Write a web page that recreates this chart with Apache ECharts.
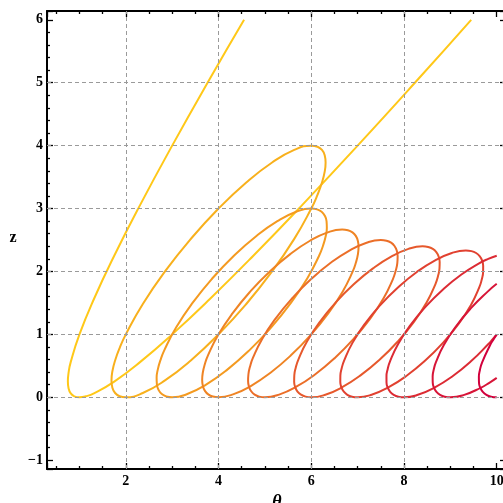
<!DOCTYPE html>
<html>
<head>
<meta charset="utf-8">
<script src="https://cdn.jsdelivr.net/npm/echarts@6/dist/echarts.min.js"></script>
<style>html,body{margin:0;padding:0;background:#fff;}#c{width:503px;height:503px;}</style>
</head>
<body>
<div id="c"></div>
<script>
// Grid line positions
const gridX = [2, 4, 6, 8];
const gridZ = [0, 1, 2, 3, 4, 5];

// Curves [theta, z]
const curve1 = [[4.551,6],[3.8125,5.0625],[3,4],[2.3125,3.0625],[1.75,2.25],[1.3125,1.5625],[1,1],[0.8125,0.5625],[0.7656,0.3906],[0.75,0.25],[0.7656,0.1406],[0.8125,0.0625],[0.8906,0.0156],[1,0],[1.1406,0.0156],[1.3125,0.0625],[1.75,0.25],[2.3125,0.5625],[3,1],[3.8125,1.5625],[4.75,2.25],[5.8125,3.0625],[7,4],[8.3125,5.0625],[9.449,6]];
const curve2 = [[5.155,2],[5.633,2.5176],[6.0,3],[6.1336,3.2175],[6.231,3.4142],[6.2896,3.5867],[6.309,3.732],[6.2897,3.8478],[6.231,3.9318],[6.1336,3.9829],[6.0,4],[5.633,3.9318],[5.155,3.732],[4.598,3.4142],[4.0,3],[3.402,2.5176],[2.845,2],[2.367,1.4824],[2.0,1],[1.8664,0.7825],[1.769,0.5858],[1.7104,0.4133],[1.691,0.268],[1.7103,0.1522],[1.769,0.0682],[1.8664,0.0171],[2,0],[2.367,0.0682],[2.845,0.268],[3.402,0.5858],[4.0,1],[4.598,1.4824],[5.155,2]];
const curve3 = [[5.5607,1.5],[5.9127,1.8882],[6.1686,2.25],[6.2546,2.4131],[6.3107,2.5607],[6.3357,2.69],[6.3293,2.799],[6.2917,2.8858],[6.2234,2.9489],[6.1257,2.9872],[6.0,3],[5.6744,2.9489],[5.2687,2.799],[4.8107,2.5607],[4.3314,2.25],[3.8637,1.8882],[3.4393,1.5],[3.0873,1.1118],[2.8314,0.75],[2.7454,0.5869],[2.6894,0.4394],[2.6643,0.31],[2.6707,0.201],[2.7083,0.1142],[2.7767,0.0512],[2.8743,0.0128],[3,0],[3.3257,0.0512],[3.7313,0.201],[4.1894,0.4394],[4.6686,0.75],[5.1363,1.1118],[5.5607,1.5]];
const curve4 = [[6.3661,1.3333],[6.676,1.6784],[6.8944,2],[6.9644,2.145],[7.0064,2.2761],[7.0198,2.3911],[7.0044,2.488],[6.9604,2.5652],[6.8885,2.6212],[6.79,2.6552],[6.6667,2.6667],[6.3539,2.6212],[5.9716,2.488],[5.5458,2.2761],[5.1056,2],[4.6808,1.6784],[4.3005,1.3333],[3.9907,0.9883],[3.7723,0.6667],[3.7023,0.5217],[3.6602,0.3905],[3.6468,0.2755],[3.6623,0.1787],[3.7063,0.1015],[3.7782,0.0455],[3.8766,0.0114],[4,0],[4.3128,0.0455],[4.6951,0.1787],[5.1208,0.3905],[5.5611,0.6667],[5.9859,0.9883],[6.3661,1.3333]];
const curve5 = [[7.2706,1.25],[7.5593,1.5735],[7.7589,1.875],[7.8207,2.011],[7.8556,2.1339],[7.863,2.2417],[7.8428,2.3325],[7.7955,2.4049],[7.7215,2.4574],[7.6225,2.4893],[7.5,2.5],[7.1933,2.4574],[6.8222,2.3325],[6.4122,2.1339],[5.9911,1.875],[5.5877,1.5735],[5.2294,1.25],[4.9407,0.9265],[4.7411,0.625],[4.6793,0.489],[4.6444,0.3661],[4.637,0.2583],[4.6572,0.1675],[4.7046,0.0952],[4.7785,0.0426],[4.8775,0.0107],[5,0],[5.3067,0.0426],[5.6778,0.1675],[6.0878,0.3661],[6.5089,0.625],[6.9123,0.9265],[7.2706,1.25]];
const curve6 = [[8.2142,1.2],[8.4902,1.5106],[8.6783,1.8],[8.7351,1.9305],[8.7656,2.0485],[8.7694,2.152],[8.7463,2.2392],[8.6968,2.3087],[8.6216,2.3591],[8.5221,2.3897],[8.4,2.4],[8.0966,2.3591],[7.7321,2.2392],[7.3314,2.0485],[6.9217,1.8],[6.531,1.5106],[6.1858,1.2],[5.9098,0.8894],[5.7217,0.6],[5.6649,0.4695],[5.6344,0.3515],[5.6306,0.248],[5.6537,0.1608],[5.7032,0.0913],[5.7784,0.0409],[5.8779,0.0103],[6,0],[6.3034,0.0409],[6.6679,0.1608],[7.0686,0.3515],[7.4783,0.6],[7.869,0.8894],[8.2142,1.2]];
const curve7 = [[9.1771,1.1667],[9.4446,1.4686],[9.625,1.75],[9.6785,1.8769],[9.7061,1.9916],[9.7074,2.0923],[9.6822,2.177],[9.6312,2.2445],[9.5551,2.2936],[9.4552,2.3233],[9.3333,2.3333],[9.0321,2.2936],[8.6718,2.177],[8.2771,1.9916],[7.875,1.75],[7.4926,1.4686],[7.1563,1.1667],[6.8887,0.8647],[6.7083,0.5833],[6.6548,0.4564],[6.6272,0.3417],[6.626,0.2411],[6.6511,0.1563],[6.7021,0.0888],[6.7783,0.0398],[6.8781,0.01],[7,0],[7.3013,0.0398],[7.6615,0.1563],[8.0562,0.3417],[8.4583,0.5833],[8.8407,0.8647],[9.1771,1.1667]];
const curve8 = [[10,2.25],[9.817,2.2],[9.6286,2.1326],[9.2383,1.951],[8.8414,1.7143],[8.4651,1.4386],[8.135,1.1429],[7.8736,0.8471],[7.6985,0.5714],[7.6475,0.4471],[7.622,0.3347],[7.6226,0.2362],[7.6491,0.1531],[7.7013,0.087],[7.7782,0.039],[7.8782,0.0098],[8,0],[8.2998,0.039],[8.6571,0.1531],[9.0474,0.3347],[9.4443,0.5714],[9.8206,0.8471],[9.9085,0.92],[10,1]];
const curve9 = [[10,1.8036],[9.8161,1.6875],[9.4443,1.4162],[9.1188,1.125],[8.862,0.8339],[8.6911,0.5625],[8.6418,0.4401],[8.618,0.3295],[8.62,0.2325],[8.6477,0.1508],[8.7005,0.0856],[8.778,0.0384],[8.8783,0.0096],[9,0],[9.2988,0.0384],[9.6539,0.1508],[9.84,0.23],[10,0.3081]];
const curve10 = [[10,1],[9.93,0.92],[9.8529,0.8236],[9.6853,0.5556],[9.6374,0.4347],[9.6148,0.3254],[9.6178,0.2296],[9.6464,0.1489],[9.7,0.0846],[9.7778,0.0379],[9.8783,0.0095],[10,0]];

const curves = [curve1, curve2, curve3, curve4, curve5, curve6, curve7, curve8, curve9, curve10];
const colors = ['#FFC818','#F8B01C','#F49A20','#EF8424','#EB6E28','#E6582C','#E14130','#DC2B34','#D71538','#D2003C'];

const chart = echarts.init(document.getElementById('c'), null, {renderer: 'canvas'});

const labelFont = {fontFamily: 'Liberation Serif', fontWeight: 'bold', fontSize: 14, color: '#000'};
const tickStyle = {color: '#000', width: 1.3};
function mkX(pos, showLabel) {
  return {
    type: 'value', position: pos, min: 0.3, max: 10.2, splitNumber: 5,
    axisLine: {show: true, onZero: false, lineStyle: {color: '#000', width: 2}},
    axisTick: {show: true, inside: true, length: 6, lineStyle: tickStyle},
    minorTick: {show: true, splitNumber: 4, length: 3, lineStyle: tickStyle},
    splitLine: {show: false}, minorSplitLine: {show: false},
    axisLabel: Object.assign({show: showLabel, showMinLabel: false, showMaxLabel: false, margin: 5}, labelFont)
  };
}
function mkY(pos, showLabel) {
  return {
    type: 'value', position: pos, min: -1.14, max: 6.14, splitNumber: 7,
    axisLine: {show: true, onZero: false, lineStyle: {color: '#000', width: 2}},
    axisTick: {show: true, inside: true, length: 6, lineStyle: tickStyle},
    minorTick: {show: true, splitNumber: 5, length: 3, lineStyle: tickStyle},
    splitLine: {show: false}, minorSplitLine: {show: false},
    axisLabel: Object.assign({show: showLabel, showMinLabel: false, showMaxLabel: false, margin: 4,
      formatter: v => v < 0 ? '\u2212' + (-v) : String(v)}, labelFont)
  };
}

const series = [{
  type: 'line', data: [], z: 1, silent: true,
  markLine: {
    silent: true, symbol: ['none', 'none'], animation: false,
    label: {show: false},
    lineStyle: {type: [4, 3], color: '#9a9a9a', width: 1},
    data: gridX.map(v => ({xAxis: v})).concat(gridZ.map(v => ({yAxis: v})))
  }
}];
curves.forEach((c, i) => {
  series.push({
    type: 'line', data: c, smooth: 0.5, showSymbol: false, symbol: 'none', z: 3,
    lineStyle: {color: colors[i], width: 2}, clip: true
  });
});

chart.setOption({
  animation: false,
  backgroundColor: '#fff',
  grid: {left: 47, top: 11, width: 459, height: 458, containLabel: false, outerBoundsMode: 'none'},
  xAxis: [mkX('bottom', true), mkX('top', false)],
  yAxis: [mkY('left', true), mkY('right', false)],
  graphic: [{
    type: 'text', x: 13, y: 238, silent: true,
    style: {text: 'z', align: 'center', verticalAlign: 'middle', font: 'bold 16px "Liberation Serif"', fill: '#000'}
  }, {
    type: 'text', x: 277, y: 493, silent: true,
    style: {text: 'θ', align: 'center', verticalAlign: 'top', font: 'italic bold 18px "Liberation Serif"', fill: '#000'}
  }],
  series: series
});
</script>
</body>
</html>
